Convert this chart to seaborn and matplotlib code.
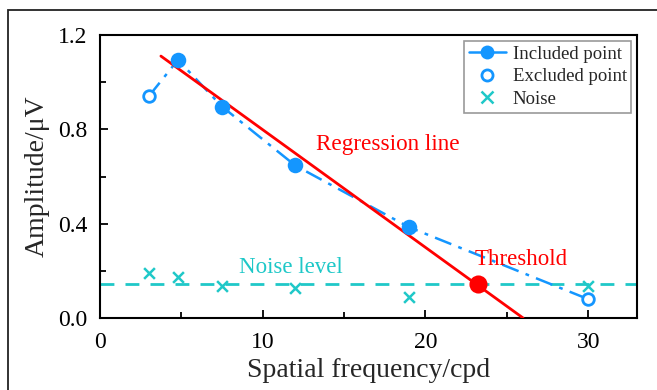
import matplotlib
matplotlib.use("Agg")
import matplotlib.pyplot as plt
import seaborn as sns
import pandas as pd
import numpy as np
from matplotlib.lines import Line2D
from matplotlib.patches import Rectangle

# ---- data ----
all_freq = [3, 4.8, 7.5, 12, 19, 30]
all_amp = [0.94, 1.095, 0.897, 0.647, 0.385, 0.08]
incl_freq = [4.8, 7.5, 12, 19]
incl_amp = [1.095, 0.897, 0.647, 0.385]
excl_freq = [3, 30]
excl_amp = [0.94, 0.08]
noise_freq = [3, 4.8, 7.5, 12, 19, 30]
noise_amp = [0.192, 0.175, 0.136, 0.126, 0.088, 0.136]
noise_level = 0.143
reg_x = [3.75, 26.0]
reg_y = [1.111, 0.0]
thr_x = [23.2]
thr_y = [0.143]

BLUE = "#1496FF"
CYAN = "#1FC8C8"
RED = "#FF0000"

sns.set_theme(style="ticks")
plt.rcParams["font.family"] = ["Liberation Serif", "DejaVu Serif"]
plt.rcParams["mathtext.fontset"] = "stix"

fig = plt.figure(figsize=(6.57, 3.9), dpi=100)
ax = fig.add_axes([0.152, 0.1846, 0.8176, 0.7254])

df_all = pd.DataFrame({"f": all_freq, "a": all_amp})
df_in = pd.DataFrame({"f": incl_freq, "a": incl_amp})
df_ex = pd.DataFrame({"f": excl_freq, "a": excl_amp})
df_n = pd.DataFrame({"f": noise_freq, "a": noise_amp})
df_reg = pd.DataFrame({"f": reg_x, "a": reg_y})

# noise level dashed line
ax.axhline(noise_level, color=CYAN, lw=2, ls=(0, (5, 4)), zorder=1)

# dash-dot connecting line
sns.lineplot(data=df_all, x="f", y="a", ax=ax, color=BLUE, lw=1.8,
             linestyle=(0, (7, 3, 1.5, 3)), sort=False, estimator=None, zorder=2)
# regression line
sns.lineplot(data=df_reg, x="f", y="a", ax=ax, color=RED, lw=2,
             sort=False, estimator=None, zorder=3)
# included points
sns.scatterplot(data=df_in, x="f", y="a", ax=ax, color=BLUE, s=125,
                edgecolor=BLUE, linewidth=0, zorder=4)
# excluded points
ax.scatter(excl_freq, excl_amp, s=70, facecolors="white", edgecolors=BLUE,
           linewidths=2, zorder=4)
# noise
sns.scatterplot(data=df_n, x="f", y="a", ax=ax, marker="x", color=CYAN,
                s=60, linewidth=1.8, zorder=4)
# threshold
sns.scatterplot(x=thr_x, y=thr_y, ax=ax, color=RED, s=170, linewidth=0, zorder=5)

ax.set_xlim(0, 33)
ax.set_ylim(0, 1.2)
ax.set_xticks([0, 10, 20, 30])
ax.set_xticks([5, 15, 25], minor=True)
ax.set_yticks([0.0, 0.4, 0.8, 1.2])
ax.set_yticks([0.2, 0.6, 1.0], minor=True)
ax.set_yticklabels(["0.0", "0.4", "0.8", "1.2"])
ax.tick_params(which="both", direction="in", labelsize=17, width=1.3, colors="black")
ax.tick_params(which="major", length=6)
ax.tick_params(which="minor", length=4)
ax.tick_params(axis="x", pad=10)
ax.tick_params(axis="y", pad=9)
for s in ax.spines.values():
    s.set_linewidth(1.5)
    s.set_color("black")

ax.set_xlabel("Spatial frequency/cpd", fontsize=20, labelpad=4)
ax.set_ylabel("Amplitude/μV", fontsize=20, labelpad=6)

ax.text(17.7, 0.735, "Regression line", color=RED, fontsize=16.7, ha="center", va="center")
ax.text(23.0, 0.25, "Threshold", color=RED, fontsize=16.5, ha="left", va="center")
ax.text(11.75, 0.216, "Noise level", color=CYAN, fontsize=16.5, ha="center", va="center")

handles = [
    Line2D([0], [0], color=BLUE, lw=1.8, marker="o", markersize=10, markeredgewidth=0),
    Line2D([0], [0], color="none", marker="o", markersize=8, markerfacecolor="white",
           markeredgecolor=BLUE, markeredgewidth=2),
    Line2D([0], [0], color="none", marker="x", markersize=8, markeredgecolor=CYAN,
           markeredgewidth=1.8),
]
leg = ax.legend(handles, ["Included point", "Excluded point", "Noise"],
                loc="upper right", fontsize=13.5, frameon=True, fancybox=False,
                edgecolor="gray", handlelength=2.0, borderpad=0.25,
                labelspacing=0.3, handletextpad=0.35, borderaxespad=0.3)
leg.get_frame().set_linewidth(1.2)

# outer frame
fig.patches.append(Rectangle((8 / 657, -0.1), 1.2, (390 - 10) / 390 + 0.1,
                             transform=fig.transFigure, fill=False,
                             edgecolor="#222222", lw=1.3))

fig.savefig("out.png", dpi=100)
